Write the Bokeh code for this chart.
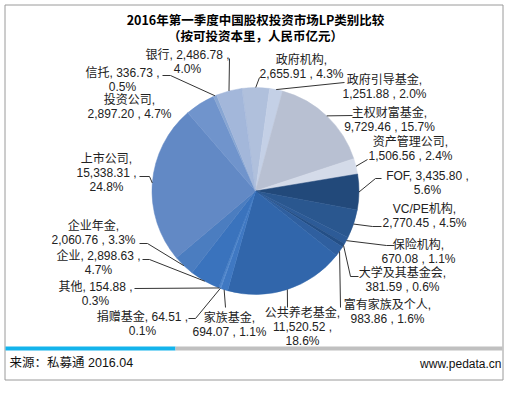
import math
from bokeh.plotting import figure
from bokeh.models import Range1d, ColumnDataSource
from bokeh.core.properties import value
from bokeh.embed import file_html
from bokeh.resources import INLINE

# ---------------- data ----------------
categories = ["政府机构", "政府引导基金", "主权财富基金", "资产管理公司", "FOF",
              "VC/PE机构", "保险机构", "大学及其基金会", "富有家族及个人", "公共养老基金",
              "家族基金", "捐赠基金", "其他", "企业", "企业年金",
              "上市公司", "投资公司", "信托", "银行"]
amounts = [2655.91, 1251.88, 9729.46, 1506.56, 3435.80,
           2770.45, 670.08, 381.59, 983.86, 11520.52,
           694.07, 64.51, 154.88, 2898.63, 2060.76,
           15338.31, 2897.20, 336.73, 2486.78]
title_lines = ["2016年第一季度中国股权投资市场LP类别比较", "（按可投资本里，人民币亿元）"]
source_text = "来源：私募通 2016.04"
site_text = "www.pedata.cn"

# ---------------- styles / layout ----------------
colors = ["#b0c0dc", "#c4d0e6", "#b8c0d2", "#d4dbe9", "#22497a",
          "#2a578f", "#2d5b97", "#244f86", "#2f5f9f", "#3166ab",
          "#3f78c2", "#5b8fd2", "#4b83c9", "#3a73bd", "#4b7dc0",
          "#6289c5", "#7094cc", "#88a6d3", "#a3b7da"]
# label line-break style: n = after name, p = before percent, b = both
breaks = ["n", "n", "n", "n", "p", "n", "n", "n", "n", "b",
          "n", "p", "p", "p", "n", "b", "n", "p", "p"]
# label block centre (page px)
label_pos = [(309, 74.5), (392, 94), (397, 127), (418, 156), (435, 190.5),
             (432, 223.5), (426, 259.5), (410, 287.5), (395, 319.5), (310, 334.5),
             (237, 332), (150, 331.5), (103, 301), (106, 270.5), (101, 240),
             (114, 180.5), (137, 114), (130, 87), (195, 69.5)]
# leader elbow points from label side (page px); None = no leader
leaders = [[(267, 85)], [(352, 90)], [(360, 123)], [(375, 167)], [(389, 186), (383, 186)],
           [(389, 234), (380, 234)], [(402, 253), (394, 253)], [(366, 284), (358, 284)], [(348, 315)], [(295, 315)],
           [(233, 315)], [(196, 326), (203, 326)], [(142, 296)], [(150, 267), (157, 267)], [(147, 251), (155, 251)],
           [(147, 184), (157, 184)], None, [(170, 83), (178, 83)], [(237, 66)]]

CX, CY, R = 263, 198.5, 103.5
START = -7.6  # degrees clockwise from north
LINE_H = 14
TEXT_FONT = "Liberation Sans, Noto Sans CJK SC"

W, H = 511, 381
p = figure(width=W, height=H, x_range=Range1d(8, 8 + W), y_range=Range1d(-(8 + H), -8),
           output_backend="svg", toolbar_location=None, min_border=0)
p.axis.visible = False
p.grid.visible = False
p.outline_line_color = None
p.background_fill_color = "white"
p.border_fill_color = "white"

def Y(y):
    return -y

# frame
p.quad(left=[12.5], right=[510.5], top=[Y(12.5)], bottom=[Y(387.5)],
       fill_color="white", line_color="#9a9a9a", line_width=1)
# footer bar
p.quad(left=[13], right=[183], top=[Y(354)], bottom=[Y(358)], fill_color="#14b4ec", line_color=None)
p.quad(left=[183], right=[510], top=[Y(354)], bottom=[Y(358)], fill_color="#c0c0c0", line_color=None)

# pie
total = sum(amounts)
starts, ends, mids = [], [], []
cum = 0.0
for v in amounts:
    a0 = START + cum / total * 360
    cum += v
    a1 = START + cum / total * 360
    starts.append(math.radians(90 - a1))
    ends.append(math.radians(90 - a0))
    mids.append((a0 + a1) / 2)

src = ColumnDataSource(dict(start=starts, end=ends, color=colors, cat=categories))
p.wedge(x=CX, y=Y(CY), radius=R, start_angle="start", end_angle="end", fill_color="color",
        line_color="color", line_width=0.5, source=src)

# leader lines
for i, pts in enumerate(leaders):
    if pts is None:
        continue
    a = math.radians(mids[i])
    px = CX + R * math.sin(a)
    py = CY - R * math.cos(a)
    xs = [q[0] for q in pts] + [px]
    ys = [Y(q[1]) for q in pts] + [Y(py)]
    p.line(xs, ys, line_color="#333333", line_width=1)

# labels
lx, ly, lt = [], [], []
for i, (name, v) in enumerate(zip(categories, amounts)):
    val = f"{v:,.2f}"
    pct = f"{v / total * 100:.1f}%"
    b = breaks[i]
    if b == "n":
        lines = [f"{name},", f"{val} , {pct}"]
    elif b == "p":
        lines = [f"{name}, {val} ,", pct]
    else:
        lines = [f"{name},", f"{val} ,", pct]
    cx, cy = label_pos[i]
    n = len(lines)
    for k, s in enumerate(lines):
        lx.append(cx)
        ly.append(Y(cy + (k - (n - 1) / 2) * LINE_H))
        lt.append(s)
p.text(x="x", y="y", text="t", source=ColumnDataSource(dict(x=lx, y=ly, t=lt)),
       text_font=value(TEXT_FONT), text_font_size="12px", text_color="#222222",
       text_align="center", text_baseline="middle")

# title
p.text(x=[263, 263], y=[Y(27), Y(43)], text=title_lines,
       text_font=value("Noto Sans CJK SC"), text_font_size="12.5px", text_font_style="bold",
       text_color="#000000", text_align="center", text_baseline="middle")

# footer texts
p.text(x=[17], y=[Y(370.5)], text=[source_text], text_font=value(TEXT_FONT), text_font_size="12.5px",
       text_color="#111111", text_align="left", text_baseline="middle")
p.text(x=[509], y=[Y(371.5)], text=[site_text], text_font=value(TEXT_FONT), text_font_size="12px",
       text_color="#111111", text_align="right", text_baseline="middle")

open("out.html", "w").write(file_html(p, INLINE))
